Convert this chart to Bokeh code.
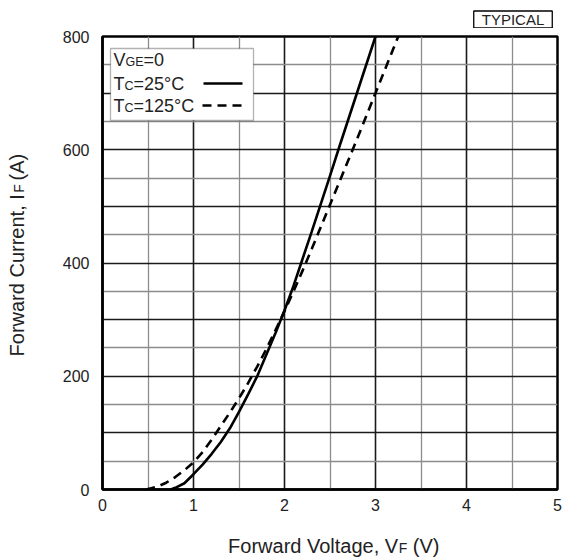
import math
from bokeh.plotting import figure
from bokeh.layouts import column, row
from bokeh.models import FixedTicker, Label, BoxAnnotation, Range1d
from bokeh.embed import file_html
from bokeh.resources import INLINE

# ---- data ----
vf_25 = [0.75, 0.80, 0.90, 1.00, 1.10, 1.20, 1.30, 1.40, 1.50, 1.60, 1.70, 1.80, 1.90, 2.00,
         2.10, 2.20, 2.30, 2.40, 2.50, 2.60, 2.70, 2.80, 2.90, 3.00]
if_25 = [0, 3, 11, 27, 44, 63, 84, 108, 137, 168, 200, 238, 276, 316,
         360, 408, 456, 505, 554, 604, 653, 702, 751, 800]
vf_125 = [0.48, 0.60, 0.70, 0.80, 0.90, 1.00, 1.10, 1.20, 1.30, 1.40, 1.50, 1.60, 1.70, 1.80,
          1.90, 2.00, 2.10, 2.20, 2.30, 2.40, 2.50, 2.60, 2.70, 2.80, 2.90, 3.00, 3.10, 3.20, 3.25]
if_125 = [0, 5, 12, 22, 34, 48, 66, 88, 112, 136, 161, 188, 217, 248,
          281, 315, 350, 387, 425, 464, 503, 542, 581, 620, 660, 700, 740, 780, 800]
x_ticks = [0, 1, 2, 3, 4, 5]
y_ticks = [0, 200, 400, 600, 800]
x_major_grid = [1, 2, 3, 4]
x_minor_grid = [0.5, 1.5, 2.5, 3.5, 4.5]
y_major_grid = [100, 200, 300, 400, 500, 600, 700]
y_minor_grid = [50, 150, 250, 350, 450, 550, 650, 750]

FONT = "Liberation Sans"
TXT = "#222222"
CAP = 0.716  # cap height / font size

# page layout: top strip, [left strip | main plot], bottom strip
TOTAL_W, TOP_H, MID_H, BOT_H, LEFT_W = 569, 28, 492, 37, 40
MAIN_W = TOTAL_W - LEFT_W
ML, MR, MT, MB = 62, 12, 8, 31
FW, FH = MAIN_W - ML - MR, MID_H - MT - MB
FRAME_L, FRAME_B = LEFT_W + ML, TOP_H + MT + FH   # page pixels of frame left / bottom
X0, X1, Y0, Y1 = 0, 5, 0, 800

AW = {' ': 278, '(': 333, ')': 333, ',': 278, '=': 584, '°': 400, '0': 556, '1': 556, '2': 556,
      '5': 556, 'A': 667, 'C': 722, 'E': 667, 'F': 611, 'G': 778, 'I': 278, 'L': 556, 'P': 667,
      'T': 611, 'V': 667, 'Y': 667, 'a': 556, 'c': 500, 'd': 556, 'e': 556, 'g': 556, 'l': 222,
      'n': 556, 'o': 556, 'r': 333, 't': 278, 'u': 556, 'w': 722}


def tw(s, size):
    return sum(AW.get(c, 556) for c in s) * size / 1000.0


def strip(w, h):
    f = figure(width=w, height=h, x_range=Range1d(0, w), y_range=Range1d(h, 0),
               output_backend="svg", toolbar_location=None, min_border=0,
               x_axis_type=None, y_axis_type=None)
    f.min_border_left = f.min_border_right = f.min_border_top = f.min_border_bottom = 0
    f.outline_line_color = None
    f.background_fill_color = "white"
    f.border_fill_color = "white"
    f.xgrid.visible = False
    f.ygrid.visible = False
    return f


def put(fig, fx, fy, text, cx, cy, size, angle=0.0):
    fig.add_layout(Label(x=fx(cx), y=fy(cy), text=text, text_font=FONT, text_font_size=f"{size}px",
                         text_baseline="middle", text_align="center", angle=angle,
                         text_color=TXT))


def run(fig, fx, fy, pieces, start, baseline, angle=0.0):
    """pieces (text, size[, nudge]) placed one after another on a common baseline.
    horizontal: start = left page x, baseline = page y.
    rotated (reads upward): start = bottom page y, baseline = page x."""
    s = 0.0
    for item in pieces:
        text, size = item[0], item[1]
        nudge = item[2] if len(item) > 2 else 0.0
        lead = len(text) - len(text.lstrip(' '))
        t = text.strip(' ')
        s += tw(' ' * lead, size)
        w = tw(t, size)
        c = s + w / 2
        if angle == 0.0:
            put(fig, fx, fy, t, start + c - nudge, baseline - CAP * size / 2, size)
        else:
            put(fig, fx, fy, t, baseline - CAP * size / 2, start - c + nudge, size, angle)
        s += w
    return s


def run_len(pieces):
    return sum(tw(p_[0], p_[1]) for p_ in pieces)


ident = lambda v: v

# ---- main plot ----
p = figure(width=MAIN_W, height=MID_H, x_range=Range1d(X0, X1), y_range=Range1d(Y0, Y1),
           output_backend="svg", toolbar_location=None,
           min_border_left=ML, min_border_right=MR, min_border_top=MT, min_border_bottom=MB)
p.background_fill_color = "white"
p.border_fill_color = "white"
p.outline_line_color = "black"
p.outline_line_width = 2.5

p.xgrid.ticker = FixedTicker(ticks=x_major_grid, minor_ticks=x_minor_grid)
p.ygrid.ticker = FixedTicker(ticks=y_major_grid, minor_ticks=y_minor_grid)
for g in (p.xgrid, p.ygrid):
    g.grid_line_color = "#1a1a1a"
    g.grid_line_width = 1.6
    g.minor_grid_line_color = "#8c8c8c"
    g.minor_grid_line_width = 1.3

p.xaxis.ticker = FixedTicker(ticks=x_ticks)
p.yaxis.ticker = FixedTicker(ticks=y_ticks)
for ax in (p.xaxis, p.yaxis):
    ax.axis_line_color = "black"
    ax.axis_line_width = 2.5
    ax.major_tick_out = 0
    ax.major_tick_in = 0
    ax.minor_tick_out = 0
    ax.minor_tick_in = 0
    ax.major_label_text_font = FONT
    ax.major_label_text_font_size = "16px"
    ax.major_label_text_color = TXT
p.xaxis.major_label_standoff = 9
p.yaxis.major_label_standoff = 13

p.line(vf_25, if_25, line_color="black", line_width=2.6)
p.line(vf_125, if_125, line_color="black", line_width=2.6, line_dash="9 6")


def X(px):  # page pixel -> data x (main plot)
    return X0 + (px - FRAME_L) * (X1 - X0) / FW


def Y(py):  # page pixel -> data y (main plot)
    return Y0 + (FRAME_B - py) * (Y1 - Y0) / FH


# legend (drawn by hand to keep the small-cap subscripts)
p.add_layout(BoxAnnotation(left=X(110), right=X(253), top=Y(48), bottom=Y(120),
                           fill_color="white", fill_alpha=1.0, line_color="black",
                           line_width=1.3, level="annotation"))
run(p, X, Y, [("V", 18), ("GE", 12.5), ("=0", 18)], 113, 65.5)
run(p, X, Y, [("T", 18), ("C", 12.5), ("=25°C", 18)], 113, 89.5)
run(p, X, Y, [("T", 18), ("C", 12.5), ("=125°C", 18)], 113, 111.5)
s1 = p.segment(x0=[X(203)], y0=[Y(83)], x1=[X(242)], y1=[Y(83)], line_color="black", line_width=2.6)
s2 = p.segment(x0=[X(202)], y0=[Y(105)], x1=[X(242)], y1=[Y(105)], line_color="black",
               line_width=2.6, line_dash="9 6")
s1.level = "overlay"
s2.level = "overlay"

# ---- top strip: TYPICAL ----
top = strip(TOTAL_W, TOP_H)
top.add_layout(Label(x=512.5, y=19, text="TYPICAL", text_font=FONT, text_font_size="15px",
                     text_align="center", text_baseline="middle", text_color=TXT,
                     border_line_color="black", border_line_width=1.3,
                     background_fill_color="white", padding=(8, 0)))

# ---- left strip: y axis title ----
left = strip(LEFT_W, MID_H)
yl = [("Forward Current, I", 20, 9.0), ("F", 14), (" (A)", 20)]
ly = lambda py: py - TOP_H
run(left, ident, ly, yl, 258 + run_len(yl) / 2, 24, angle=math.pi / 2)

# ---- bottom strip: x axis title ----
bottom = strip(TOTAL_W, BOT_H)
xl = [("Forward Voltage, V", 20), ("F", 14), (" (V)", 20)]
by = lambda py: py - TOP_H - MID_H
run(bottom, ident, by, xl, 333 - run_len(xl) / 2, 553)

layout = column(top, row(left, p), bottom)
open("out.html", "w").write(file_html(layout, INLINE))
